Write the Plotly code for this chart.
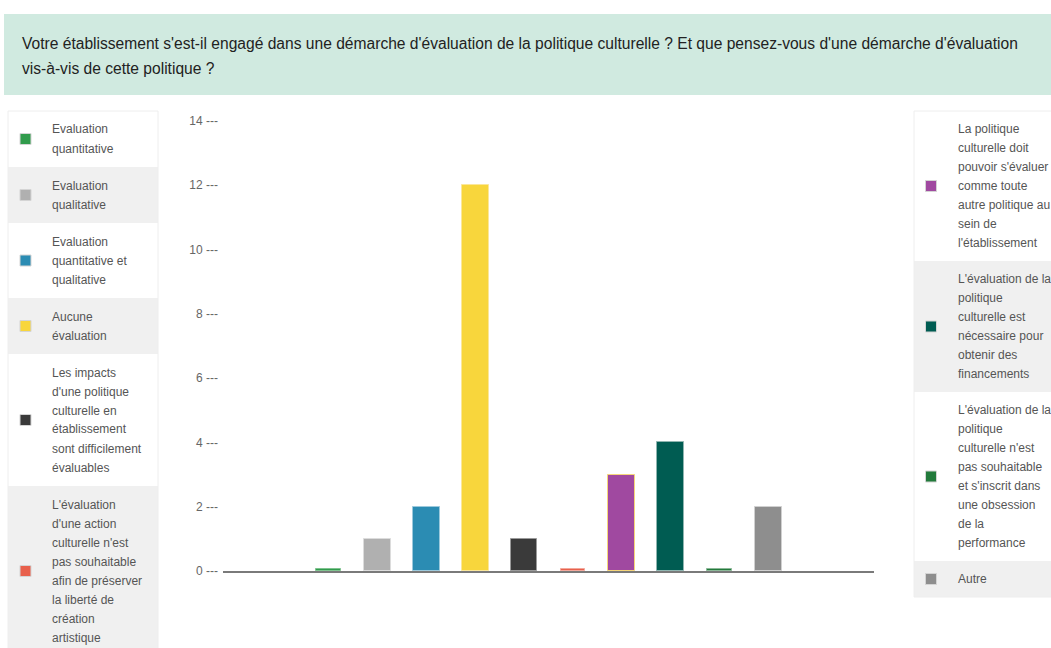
import plotly.graph_objects as go

# --- data -------------------------------------------------------------
title_lines = [
    "Votre établissement s'est-il engagé dans une démarche d'évaluation de la politique culturelle ? Et que pensez-vous d'une démarche d'évaluation",
    "vis-à-vis de cette politique ?",
]

answers = [
    ["Evaluation", "quantitative"],
    ["Evaluation", "qualitative"],
    ["Evaluation", "quantitative et", "qualitative"],
    ["Aucune", "évaluation"],
    ["Les impacts", "d'une politique", "culturelle en", "établissement", "sont difficilement", "évaluables"],
    ["L'évaluation", "d'une action", "culturelle n'est", "pas souhaitable", "afin de préserver",
     "la liberté de", "création", "artistique"],
    ["La politique", "culturelle doit", "pouvoir s'évaluer", "comme toute", "autre politique au",
     "sein de", "l'établissement"],
    ["L'évaluation de la", "politique", "culturelle est", "nécessaire pour", "obtenir des", "financements"],
    ["L'évaluation de la", "politique", "culturelle n'est", "pas souhaitable", "et s'inscrit dans",
     "une obsession", "de la", "performance"],
    ["Autre"],
]

counts = [0, 1, 2, 12, 1, 0, 3, 4, 0, 2]

colors = ["#319b4c", "#b0b0b0", "#2b8cb3", "#f8d63c", "#3a3a3a",
          "#e8604c", "#a049a0", "#005c52", "#227a3b", "#8e8e8e"]
edge_colors = ["#7fc38f", "#dcdcdc", "#9cc9dc", "#fbe79a", "#9a9a9a",
               "#f2a89c", "#f5d67a", "#8fb5b0", "#8cb898", "#d0d0d0"]

left_count = 6          # answers listed in the left-hand key
y_ticks = [0, 2, 4, 6, 8, 10, 12, 14]

# --- geometry (pixels) ------------------------------------------------
W, H = 1051, 648
L, R, T, B = 223, 874, 121, 571
PW, PH = R - L, B - T

def px(x):
    return (x - L) / PW

def py(y):
    return (B - y) / PH

# zero answers are drawn as a thin stub so the slot stays visible
stub = 0.05
heights = [c if c > 0 else stub for c in counts]
widths = [0.545 if c > 0 else 0.5 for c in counts]
positions = list(range(len(counts)))

fig = go.Figure()
fig.add_trace(go.Bar(
    x=positions,
    y=heights,
    width=widths,
    marker=dict(color=colors, line=dict(color=edge_colors, width=1)),
    customdata=counts,
    hovertemplate="%{customdata}<extra></extra>",
    showlegend=False,
))

shapes = []
annotations = []

# heading band
shapes.append(dict(type="rect", xref="paper", yref="paper",
                   x0=px(4), x1=px(W + 5), y0=py(95), y1=py(14),
                   fillcolor="#d0eae0", line=dict(width=0), layer="below"))
for i, line in enumerate(title_lines):
    annotations.append(dict(xref="paper", yref="paper", x=px(20), y=py(44 + 24 * i),
                            xanchor="left", yanchor="middle", showarrow=False,
                            text=line, font=dict(size=15.6, color="#222222",
                                                 family="Liberation Sans, Arial, sans-serif")))

LINE_H = 19

def key_panel(items, x0, x1, top, marker_x, text_x, pad):
    y = top
    for k, (idx, lines) in enumerate(items):
        h = LINE_H * len(lines) + pad
        shapes.append(dict(type="rect", xref="paper", yref="paper",
                           x0=px(x0), x1=px(x1), y0=py(y + h), y1=py(y),
                           fillcolor="#ffffff" if k % 2 == 0 else "#f0f0f0",
                           line=dict(width=0), layer="below"))
        cy = y + h / 2
        shapes.append(dict(type="rect", xref="paper", yref="paper",
                           x0=px(marker_x - 5.5), x1=px(marker_x + 5.5),
                           y0=py(cy + 5.5), y1=py(cy - 5.5),
                           fillcolor=colors[idx], line=dict(color="#d4d4d4", width=1)))
        for j, line in enumerate(lines):
            annotations.append(dict(xref="paper", yref="paper", x=px(text_x),
                                    y=py(y + pad / 2 + LINE_H * (j + 0.5)),
                                    xanchor="left", yanchor="middle", showarrow=False,
                                    text=line, font=dict(size=12, color="#555555",
                                                         family="Liberation Sans, Arial, sans-serif")))
        y += h
    shapes.append(dict(type="rect", xref="paper", yref="paper",
                       x0=px(x0), x1=px(x1), y0=py(y), y1=py(top),
                       fillcolor="rgba(0,0,0,0)", line=dict(color="#eeeeee", width=1),
                       layer="below"))

left_items = list(enumerate(answers))[:left_count]
right_items = list(enumerate(answers))[left_count:]
key_panel(left_items, 8, 158, 111, 25.5, 50, 18)
key_panel(right_items, 914, W + 20, 111, 931, 956, 17)

fig.update_layout(
    width=W, height=H,
    margin=dict(l=L, r=W - R, t=T, b=H - B, pad=0),
    paper_bgcolor="#ffffff", plot_bgcolor="#ffffff",
    bargap=0,
    shapes=shapes,
    annotations=annotations,
    font=dict(family="Liberation Sans, Arial, sans-serif", size=12, color="#666666"),
    xaxis=dict(range=[-2.164, 11.166], showticklabels=False, showgrid=False,
               zeroline=False, showline=True, linecolor="#7a7a7a", linewidth=1.5,
               ticks="", fixedrange=True),
    yaxis=dict(range=[0, 14], tickvals=y_ticks, ticktext=[f"{v} ---" for v in y_ticks],
               showgrid=False, zeroline=False, showline=False, ticks="",
               ticklabelstandoff=4, tickfont=dict(size=12, color="#666666"),
               fixedrange=True),
)

fig.write_html("out.html")
